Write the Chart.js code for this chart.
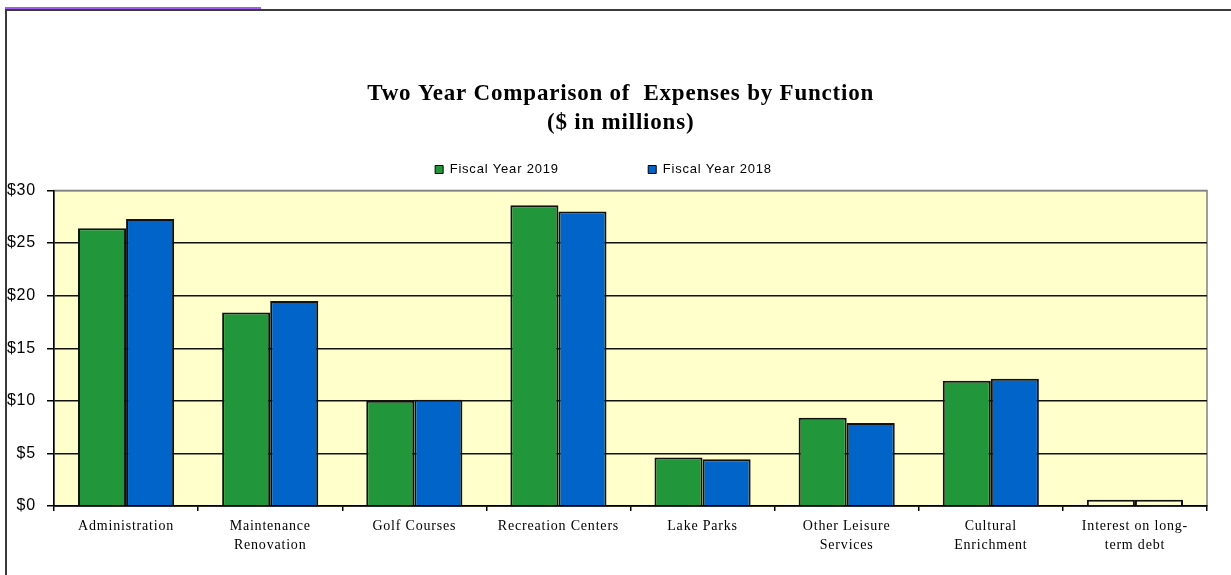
<!DOCTYPE html>
<html>
<head>
<meta charset="utf-8">
<script src="https://cdn.jsdelivr.net/npm/chart.js@4.4.1/dist/chart.umd.min.js"></script>
<style>
    html, body { margin: 0; padding: 0; background: #fff; }
    body { width: 1231px; height: 575px; position: relative; overflow: hidden; }
    #mark { position: absolute; left: 5px; top: 7px; width: 256px; height: 2px; background: #a35cf2; }
    #frame { position: absolute; left: 5px; top: 9px; width: 1400px; height: 700px;
             border-left: 2px solid #3a3a3a; border-top: 2px solid #3a3a3a; }
    #wrap { position: absolute; left: 0; top: 0; width: 1231px; height: 575px; }
</style>
</head>
<body>
<div id="mark"></div>
<div id="frame"></div>
<div id="wrap"><canvas id="expensesChart" width="1231" height="575"></canvas></div>
<script>
// Datos ($ en millones)
const categories = [
    'Administration',
    ['Maintenance', 'Renovation'],
    'Golf Courses',
    'Recreation Centers',
    'Lake Parks',
    ['Other Leisure', 'Services'],
    ['Cultural', 'Enrichment'],
    ['Interest on long-', 'term debt']
];
const fy2019 = [26.4, 18.4, 10.0, 28.6, 4.6, 8.4, 11.9, 0.6];
const fy2018 = [27.3, 19.5, 10.1, 28.0, 4.45, 7.9, 12.1, 0.6];
const seriesNames = ['Fiscal Year 2019', 'Fiscal Year 2018'];
const yTicks = [0, 5, 10, 15, 20, 25, 30];

const seriesColors = ['#21963b', '#0064c8'];
const plotColor = '#ffffcc';

// el original (Excel) dibuja el texto algo más espaciado
const textSpacing = {
    id: 'textSpacing',
    beforeUpdate(chart) { chart.ctx.letterSpacing = '0.8px'; },
    beforeDraw(chart) { chart.ctx.letterSpacing = '0.8px'; }
};

// fondo amarillo del área de trazado
const plotBackground = {
    id: 'plotBackground',
    beforeDraw(chart) {
        const { ctx, chartArea: a } = chart;
        ctx.save();
        ctx.fillStyle = plotColor;
        ctx.fillRect(a.left, a.top, a.width, a.height);
        ctx.strokeStyle = '#808080';
        ctx.lineWidth = 1.5;
        ctx.strokeRect(a.left, a.top, a.width, a.height);
        ctx.restore();
    }
};

function barColor(i) {
    // la última categoría aparece sin relleno en el original
    return ctx => ctx.dataIndex === categories.length - 1 ? plotColor : seriesColors[i];
}

new Chart(document.getElementById('expensesChart').getContext('2d'), {
    type: 'bar',
    data: {
        labels: categories,
        datasets: [fy2019, fy2018].map((values, i) => ({
            label: seriesNames[i],
            data: values,
            backgroundColor: barColor(i),
            borderColor: '#111',
            borderWidth: 2,
            barPercentage: 1,
            categoryPercentage: 0.667
        }))
    },
    options: {
        responsive: false,
        devicePixelRatio: 1,
        animation: false,
        layout: { padding: { left: 0, right: 24, top: 0, bottom: 19 } },
        plugins: {
            title: {
                display: true,
                fullSize: false,
                text: ['Two Year Comparison of  Expenses by Function   ', '($ in millions)   '],
                color: '#000',
                font: { family: 'Liberation Serif', size: 23, weight: 'bold', lineHeight: 1.25 },
                padding: { top: 80, bottom: 15.5 }
            },
            legend: {
                position: 'top',
                weight: 1800,
                labels: {
                    color: '#000',
                    font: { family: 'Liberation Sans', size: 13 },
                    boxWidth: 8,
                    boxHeight: 8,
                    padding: 10,
                    generateLabels: chart => chart.data.datasets.map((ds, i) => ({
                        text: i === 0 ? ds.label + ' '.repeat(18) : ds.label,
                        fillStyle: seriesColors[i],
                        strokeStyle: '#000',
                        lineWidth: 1,
                        datasetIndex: i,
                        hidden: false
                    }))
                }
            },
            // separador vacío entre la leyenda y el gráfico
            subtitle: {
                display: true,
                text: '',
                font: { size: 1 },
                padding: { top: 3.3, bottom: 0 }
            },
            tooltip: { enabled: false }
        },
        scales: {
            x: {
                afterFit: scale => { scale.height = 50; },
                border: { color: '#000', width: 1.5 },
                grid: { drawOnChartArea: false, drawTicks: true, tickLength: 5, tickColor: '#000', lineWidth: 1.5 },
                ticks: {
                    color: '#000',
                    font: { family: 'Liberation Serif', size: 14, lineHeight: 1.35 },
                    padding: 6,
                    maxRotation: 0,
                    autoSkip: false
                }
            },
            y: {
                min: 0,
                max: 30,
                afterFit: scale => { scale.width = 54; },
                afterBuildTicks: scale => { scale.ticks = yTicks.map(v => ({ value: v })); },
                border: { color: '#000', width: 1.5 },
                grid: {
                    color: c => c.tick && c.tick.value === 30 ? '#808080' : '#111',
                    lineWidth: 1.5,
                    tickLength: 7,
                    tickColor: '#000'
                },
                ticks: {
                    color: '#000',
                    font: { family: 'Liberation Sans', size: 16 },
                    padding: 11,
                    callback: v => '$' + v
                }
            }
        }
    },
    plugins: [textSpacing, plotBackground]
});
</script>
</body>
</html>
